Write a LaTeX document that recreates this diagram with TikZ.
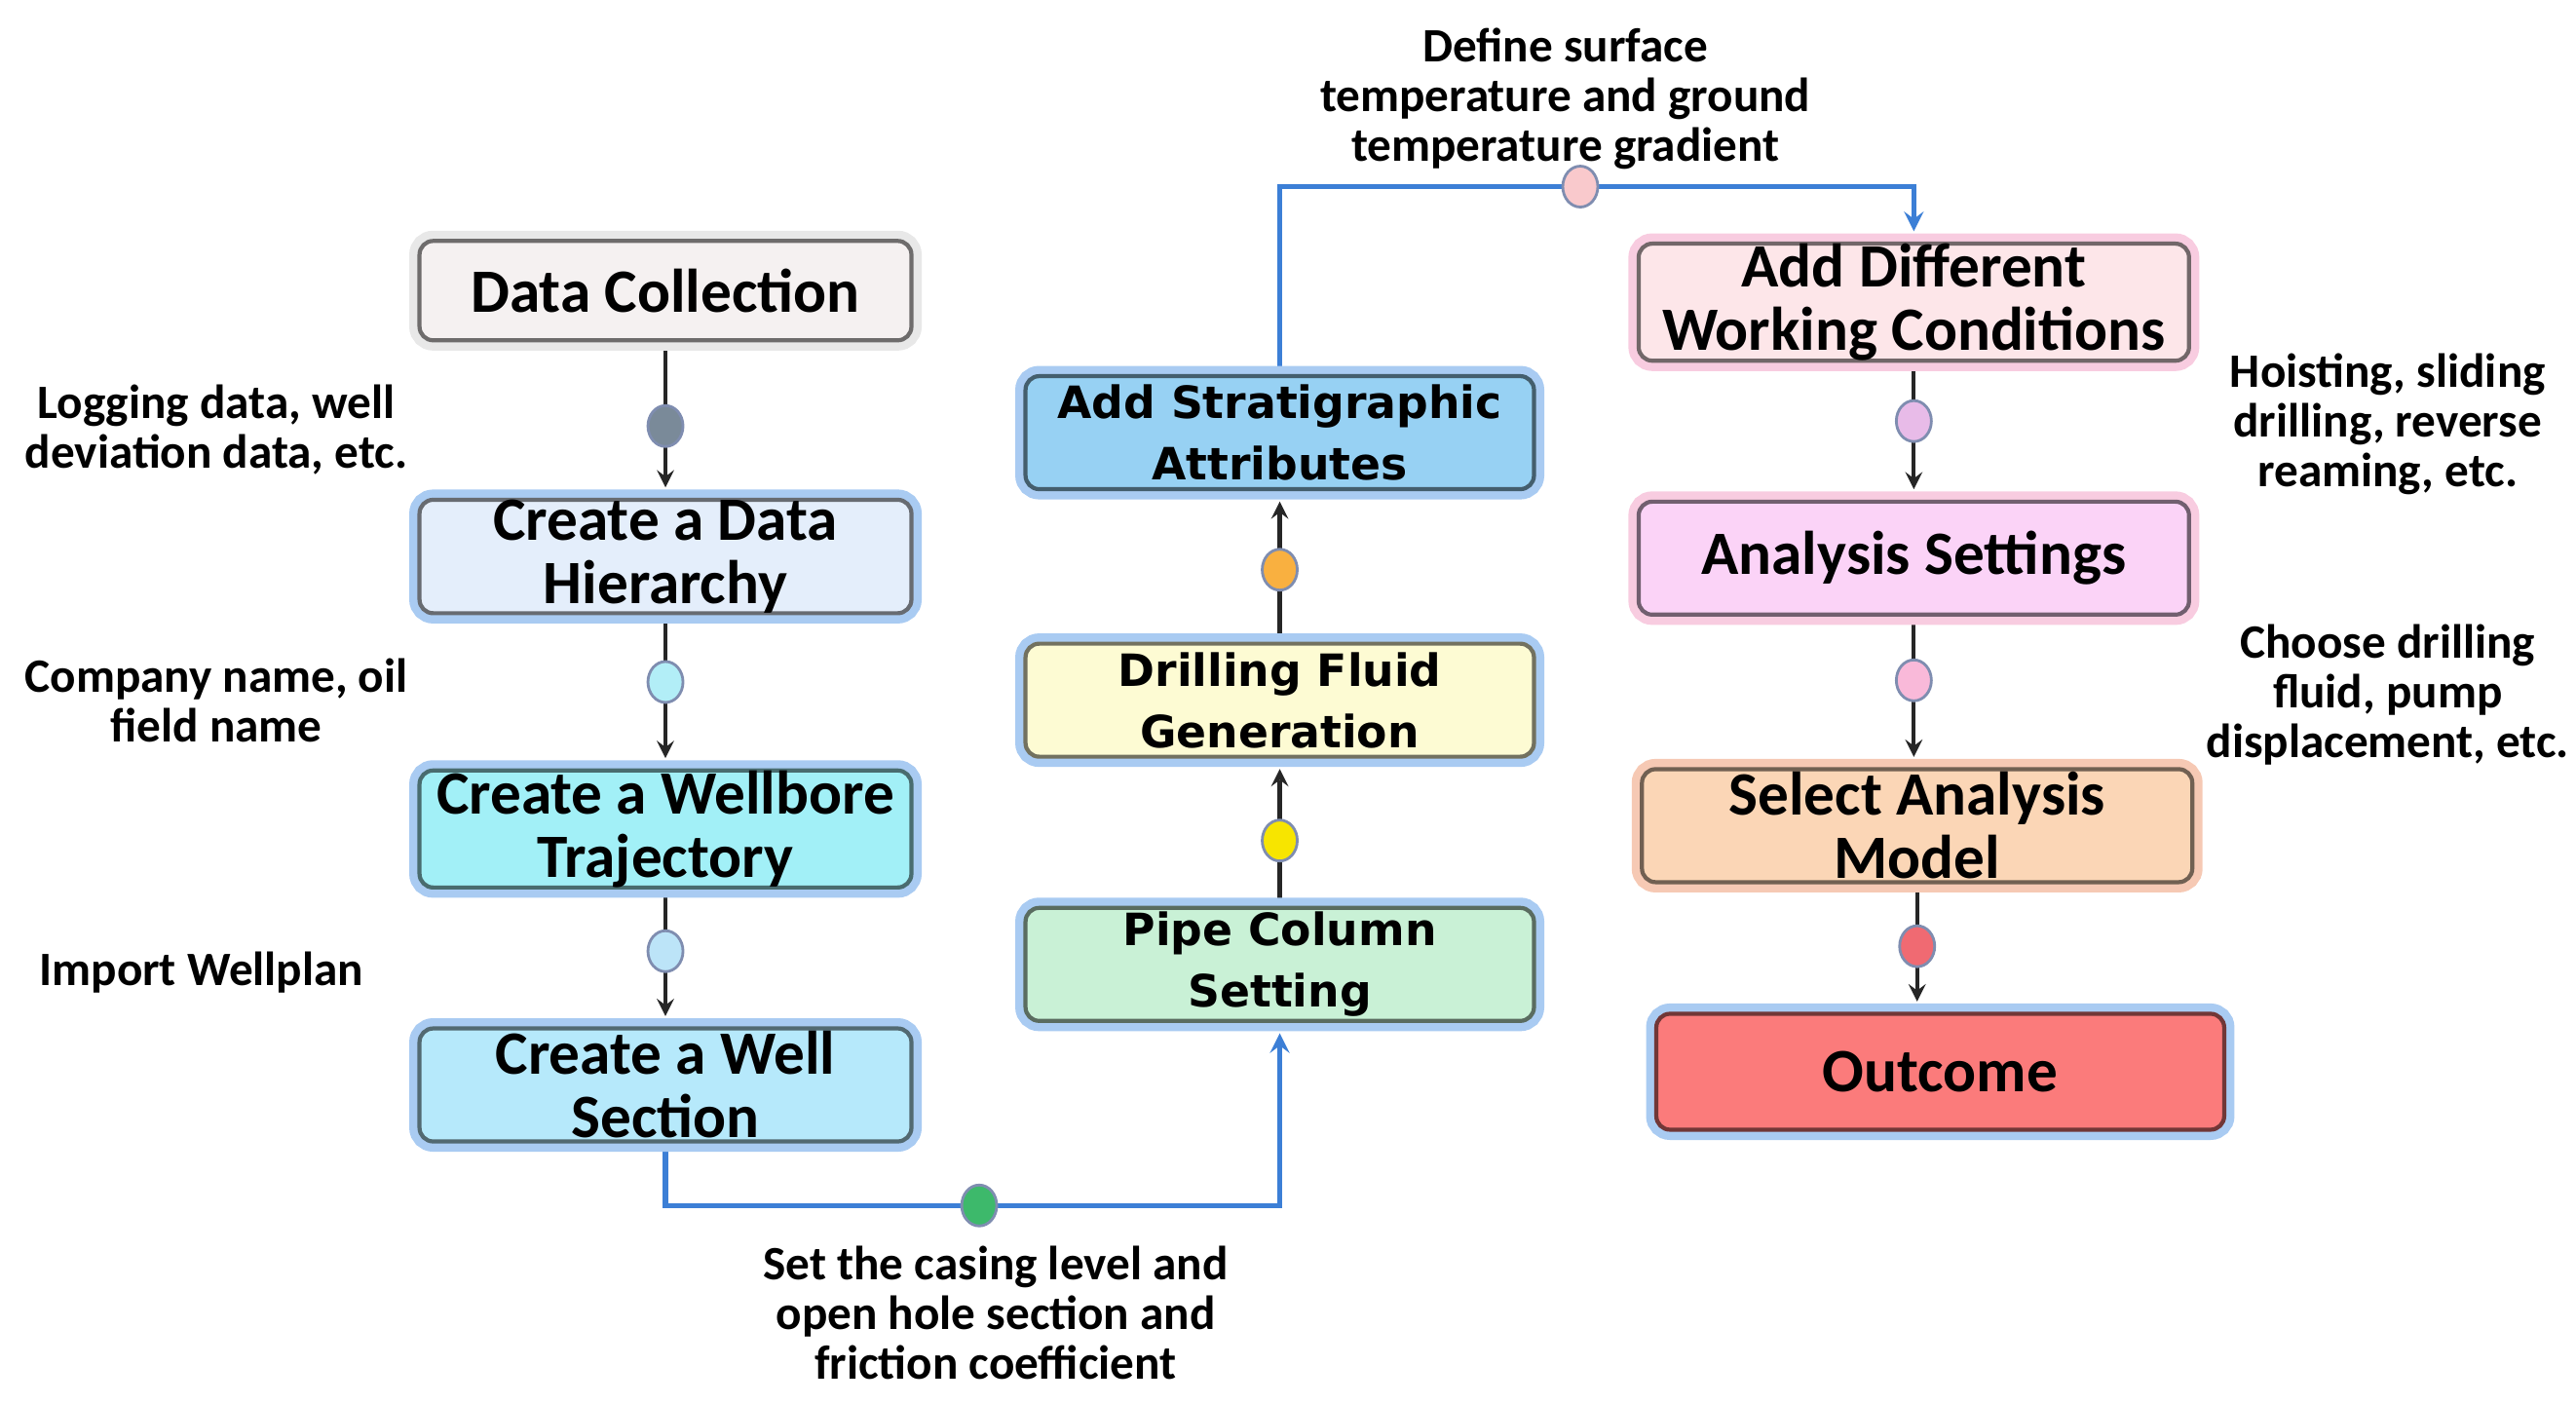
\documentclass[tikz,border=0pt]{standalone}
\usepackage{fontspec}
\setmainfont{Carlito}
\newfontfamily\midfont{DejaVu Sans}
\usetikzlibrary{shapes.geometric,backgrounds}
\definecolor{dcfill}{HTML}{F5F1F1}
\definecolor{dhfill}{HTML}{E4EEFB}
\definecolor{wtfill}{HTML}{A2F0F7}
\definecolor{wsfill}{HTML}{B6E9FB}
\definecolor{safill}{HTML}{97D1F3}
\definecolor{fgfill}{HTML}{FDFBD3}
\definecolor{pcfill}{HTML}{C9F1D6}
\definecolor{wcfill}{HTML}{FDE6E9}
\definecolor{asfill}{HTML}{FBD3F7}
\definecolor{amfill}{HTML}{FBD6B6}
\definecolor{ocfill}{HTML}{FB7B7B}
\definecolor{glowblue}{HTML}{A9CBF2}
\definecolor{glowgray}{HTML}{E8E8E8}
\definecolor{glowpink}{HTML}{F8CCE0}
\definecolor{glowpeach}{HTML}{F6C9B4}
\definecolor{lineblue}{HTML}{3C7FD6}
\definecolor{dotedge}{HTML}{7F8DB0}
\definecolor{dgray}{HTML}{7A8A99}
\definecolor{dcyan}{HTML}{B2EEF7}
\definecolor{dlblue}{HTML}{BCE4F8}
\definecolor{dorange}{HTML}{F9B040}
\definecolor{dyellow}{HTML}{F7E500}
\definecolor{dgreen}{HTML}{3DB96B}
\definecolor{dpink}{HTML}{F9C9CC}
\definecolor{dviolet}{HTML}{E8BBE8}
\definecolor{drose}{HTML}{F9B9D9}
\definecolor{dred}{HTML}{F06A72}
\begin{document}
\begin{tikzpicture}[>=stealth, x=0.01695cm, y=-0.01695cm,
	box/.style={rectangle, rounded corners=4pt, fill=#1, draw=#1!45!black, line width=1.2pt, align=center, inner sep=0pt, minimum width=5.05cm, minimum height=1.16cm, font=\fontsize{18}{18.5}\selectfont\bfseries},
	glow/.style={preaction={draw=#1, line width=6pt}},
	mid/.style={minimum width=5.22cm, font=\midfont\fontsize{13}{18}\selectfont\bfseries},
	rcol/.style={minimum width=5.65cm},
	dot/.style={ellipse, fill=#1, draw=dotedge, line width=0.8pt, minimum width=0.36cm, minimum height=0.42cm, inner sep=0pt},
	note/.style={align=center, font=\fontsize{14}{14.5}\selectfont\bfseries},
	conn/.style={->, draw=black!85, line width=1.2pt, shorten >=3pt},
	bconn/.style={->, draw=lineblue, line width=1.5pt, shorten >=3pt}]
	\useasboundingbox (0,0) rectangle (1560,850);
	% left column
	\node[box=dcfill, glow=glowgray, minimum height=1.02cm] (dc) at (403,176) {Data Collection};
	\node[box=dhfill, glow=glowblue] (dh) at (403,337) {Create a Data\\Hierarchy};
	\node[box=wtfill, glow=glowblue] (wt) at (403,502) {Create a Wellbore\\Trajectory};
	\node[box=wsfill, glow=glowblue] (ws) at (403,657) {Create a Well\\Section};
	% middle column
	\node[box=safill, mid, glow=glowblue] (sa) at (775,262) {Add Stratigraphic\\Attributes};
	\node[box=fgfill, mid, glow=glowblue] (fg) at (775,424) {Drilling Fluid\\Generation};
	\node[box=pcfill, mid, glow=glowblue] (pc) at (775,584) {Pipe Column\\Setting};
	% right column
	\node[box=wcfill, rcol, glow=glowpink] (wc) at (1159,183) {Add Different\\Working Conditions};
	\node[box=asfill, rcol, glow=glowpink] (as) at (1159,338) {Analysis Settings};
	\node[box=amfill, rcol, glow=glowpeach] (am) at (1161,500) {Select Analysis\\Model};
	\node[box=ocfill, glow=glowblue, minimum width=5.83cm, minimum height=1.19cm] (oc) at (1175,649) {Outcome};
	% dots
	\node[dot=dgray] (d1) at (403,258) {};
	\node[dot=dcyan] (d2) at (403,413) {};
	\node[dot=dlblue] (d3) at (403,576) {};
	\node[dot=dorange] (d4) at (775,345) {};
	\node[dot=dyellow] (d5) at (775,509) {};
	\node[dot=dgreen] (d6) at (593,730) {};
	\node[dot=dpink] (d7) at (957,113) {};
	\node[dot=dviolet] (d8) at (1159,255) {};
	\node[dot=drose] (d9) at (1159,412) {};
	\node[dot=dred] (d10) at (1161,573) {};
	% connectors
	\begin{scope}[on background layer]
	\draw[conn] (dc) -- (dh);
	\draw[conn] (dh) -- (wt);
	\draw[conn] (wt) -- (ws);
	\draw[conn] (pc) -- (fg);
	\draw[conn] (fg) -- (sa);
	\draw[conn] (wc) -- (as);
	\draw[conn] (as.south) -- (as.south |- am.north);
	\draw[conn] (am.south) -- (am.south |- oc.north);
	\draw[bconn] (ws.south) |- (d6.center) -| (pc.south);
	\draw[bconn] (sa.north) |- (d7.center) -| (wc.north);
	\end{scope}
	% notes
	\node[note] (l1) at (131,260) {Logging data, well\\deviation data, etc.};
	\node[note] (l2) at (131,424) {Company name, oil\\field name};
	\node[note] (l3) at (122,589) {Import Wellplan};
	\node[note] (l4) at (948,60) {Define surface\\temperature and ground\\temperature gradient};
	\node[note] (l5) at (1446,257) {Hoisting, sliding\\drilling, reverse\\reaming, etc.};
	\node[note] (l6) at (1446,421) {Choose drilling\\fluid, pump\\displacement, etc.};
	\node[note] (l7) at (603,795) {Set the casing level and\\open hole section and\\friction coefficient};
\end{tikzpicture}
\end{document}
